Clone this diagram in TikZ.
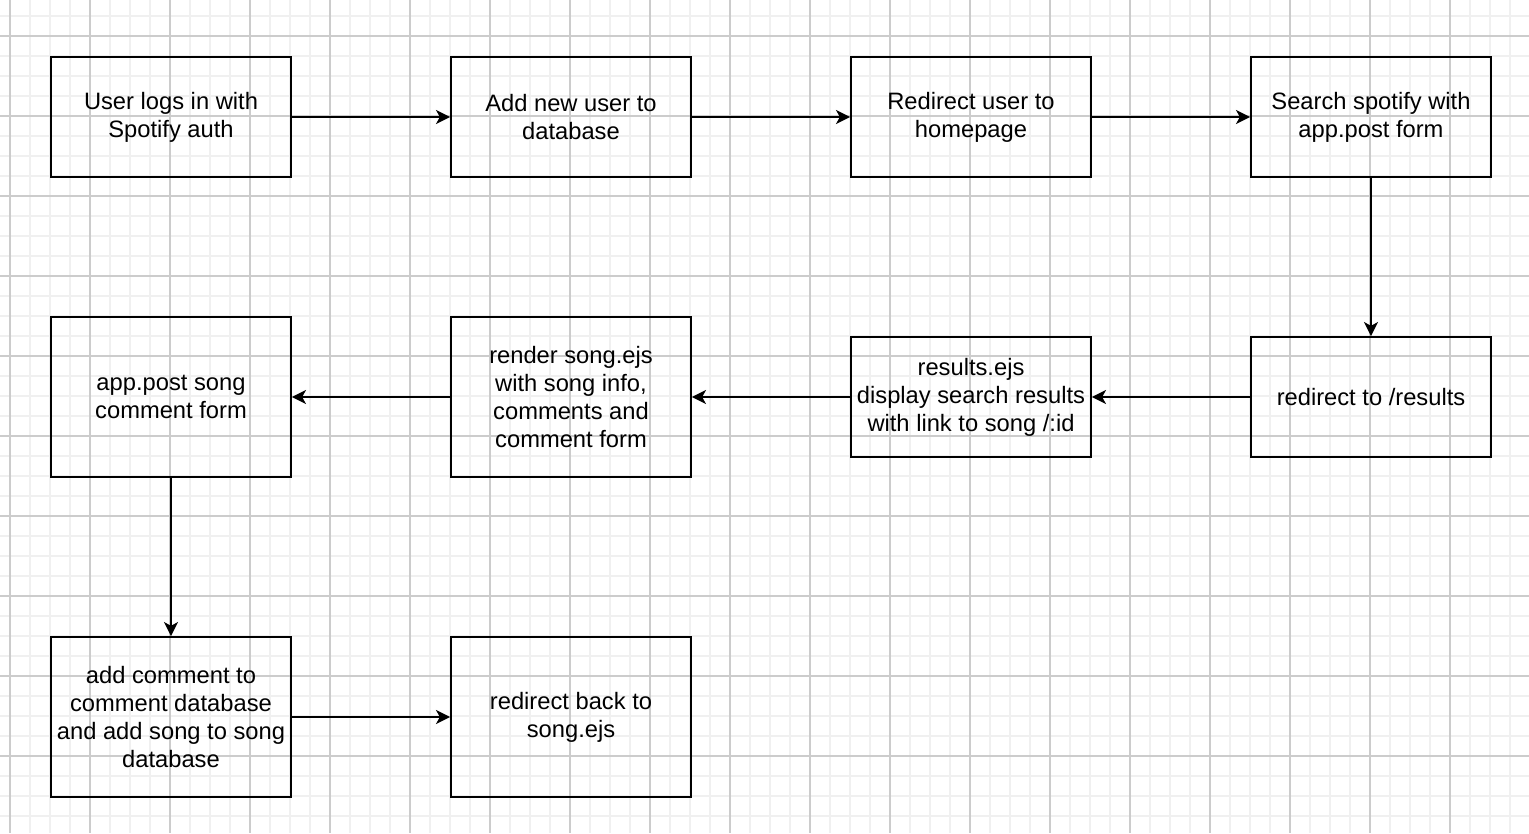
\documentclass[tikz,border=0pt]{standalone}
\usepackage{fontspec}
\setmainfont{Liberation Sans}
\usetikzlibrary{arrows.meta}

\tikzset{
  minorgrid/.style={draw=black!6,line width=0.6pt},
  majorgrid/.style={draw=black!20,line width=0.6pt},
  stepbox/.style={draw,line width=1.1pt,minimum width=4.8cm,align=center,
    inner sep=1pt,font=\fontsize{13.5}{16}\selectfont},
  flow/.style={line width=1.1pt,-{Stealth[length=8pt,width=8pt,inset=2.2pt]}}
}

\begin{document}
\begin{tikzpicture}[x=0.02cm,y=-0.02cm]
\useasboundingbox (0,0) rectangle (1529,833);
\fill[white] (0,0) rectangle (1529,833);
\foreach \x in {10,30,...,1520} \draw[minorgrid] (\x,0) -- (\x,833);
\foreach \y in {16,36,...,830} \draw[minorgrid] (0,\y) -- (1529,\y);
\foreach \x in {10,90,...,1520} \draw[majorgrid] (\x,0) -- (\x,833);
\foreach \y in {36,116,...,830} \draw[majorgrid] (0,\y) -- (1529,\y);

\node[stepbox,minimum height=2.4cm] (login) at (171,117) {User logs in with\\Spotify auth};
\node[stepbox,minimum height=2.4cm] (adduser) at (571,117) {Add new user to\\database};
\node[stepbox,minimum height=2.4cm] (home) at (971,117) {Redirect user to\\homepage};
\node[stepbox,minimum height=2.4cm] (search) at (1371,117) {Search spotify with\\app.post form};
\node[stepbox,minimum height=2.4cm] (toresults) at (1371,397) {redirect to /results};
\node[stepbox,minimum height=2.4cm] (results) at (971,397) {results.ejs\\display search results\\with link to song /:id};
\node[stepbox,minimum height=3.2cm] (render) at (571,397) {render song.ejs\\with song info,\\comments and\\comment form};
\node[stepbox,minimum height=3.2cm] (postform) at (171,397) {app.post song\\comment form};
\node[stepbox,minimum height=3.2cm] (addcomment) at (171,717) {add comment to\\comment database\\and add song to song\\database};
\node[stepbox,minimum height=3.2cm] (backsong) at (571,717) {redirect back to\\song.ejs};

\draw[flow] (login) -- (adduser);
\draw[flow] (adduser) -- (home);
\draw[flow] (home) -- (search);
\draw[flow] (search) -- (toresults);
\draw[flow] (toresults) -- (results);
\draw[flow] (results) -- (render);
\draw[flow] (render) -- (postform);
\draw[flow] (postform) -- (addcomment);
\draw[flow] (addcomment) -- (backsong);
\end{tikzpicture}
\end{document}
